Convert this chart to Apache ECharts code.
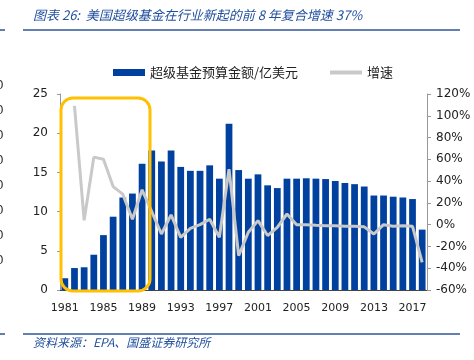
<!DOCTYPE html>
<html><head><meta charset="utf-8">
<script src="https://cdn.jsdelivr.net/npm/echarts@6/dist/echarts.min.js"></script>
<style>html,body{margin:0;padding:0;background:#fff}#c{width:474px;height:360px}</style>
</head><body><div id="c"></div>
<script>
const years = ['1981','1982','1983','1984','1985','1986','1987','1988','1989','1990','1991','1992','1993','1994','1995','1996','1997','1998','1999','2000','2001','2002','2003','2004','2005','2006','2007','2008','2009','2010','2011','2012','2013','2014','2015','2016','2017','2018'];
const budget = [1.5,2.8,2.9,4.5,7.0,9.35,11.8,12.3,16.1,17.8, 16.4,17.8,15.7,15.2,15.2,15.9,14.2,21.2,15.3,14.2, 14.75,13.35,13.0,14.2,14.2,14.25,14.2,14.15,13.9,13.65, 13.5,13.2,12.05,12.05,11.9,11.8,11.6,7.7];
const growth = [null,109,4,62,60,35,28,5,32,12, -8.6,9,-11.6,-3.4,0,5,-11.6,51,-28.5,-7, 3.7,-10,-2.4,9.8,0,0,-0.6,-1,-1,-1.5, -1.5,-2,-8.6,0,-1.5,-1,-1.5,-34.6];
const seriesNames = ['超级基金预算金额/亿美元','增速'];
const titleText = '图表 26:  美国超级基金在行业新起的前 8 年复合增速 37%';
const sourceText = '资料来源：EPA、国盛证券研究所';

const chart = echarts.init(document.getElementById('c'), null, {renderer:'canvas'});
const blue = '#2F5597';
const cjk = '"Noto Sans CJK SC", sans-serif';
const num = '"DejaVu Sans", sans-serif';
const leftZeros = [87,112,137,162,187,212,237,262].map(y => ({
  type:'text', left:-4, top:y-7, style:{text:'0', font:'12px "DejaVu Sans"', fill:'#333'}
}));
chart.setOption({
  animation:false,
  backgroundColor:'#fff',
  grid:{left:60, right:47, top:94, bottom:70},
  legend:[{
    left:108, top:61, itemWidth:32, itemHeight:7, icon:'rect',
    textStyle:{fontFamily:cjk, fontSize:13, color:'#222'},
    data:[seriesNames[0]]
  },{
    left:325, top:61, itemWidth:32, itemHeight:4, icon:'rect',
    textStyle:{fontFamily:cjk, fontSize:13, color:'#222'},
    data:[seriesNames[1]]
  }],
  xAxis:{
    type:'category', data:years,
    axisLine:{lineStyle:{color:'#444', width:1}},
    axisTick:{show:false},
    axisLabel:{interval:3, color:'#222', fontFamily:num, fontSize:11, margin:13}
  },
  yAxis:[{
    type:'value', min:0, max:25, interval:5,
    axisLine:{show:true, lineStyle:{color:'#999'}},
    axisTick:{show:true, length:3, lineStyle:{color:'#999'}},
    splitLine:{show:false},
    axisLabel:{color:'#222', fontFamily:num, fontSize:12, margin:12}
  },{
    type:'value', min:-60, max:120, interval:20, position:'right',
    axisLine:{show:true, lineStyle:{color:'#999'}},
    axisTick:{show:true, length:4, lineStyle:{color:'#999'}},
    splitLine:{show:false},
    axisLabel:{color:'#222', fontFamily:num, fontSize:12, margin:9, formatter:'{value}%'}
  }],
  series:[{
    name:seriesNames[0], type:'bar', data:budget, yAxisIndex:0,
    barCategoryGap:'30%', itemStyle:{color:'#0041A0'}
  },{
    name:seriesNames[1], type:'line', data:growth, yAxisIndex:1,
    symbol:'none', lineStyle:{color:'#C9C9C9', width:3}, itemStyle:{color:'#C9C9C9'}
  }],
  graphic:[
    {type:'text', left:33, top:9, style:{text:titleText, font:'italic 13px "Noto Sans CJK SC"', fill:'#1F4E9D'}},
    {type:'line', shape:{x1:23,y1:30,x2:460,y2:30}, style:{stroke:blue, lineWidth:1.5}},
    {type:'line', shape:{x1:0,y1:30,x2:5,y2:30}, style:{stroke:blue, lineWidth:1.5}},
    {type:'line', shape:{x1:23,y1:334,x2:460,y2:334}, style:{stroke:blue, lineWidth:1.5}},
    {type:'line', shape:{x1:0,y1:334,x2:5,y2:334}, style:{stroke:blue, lineWidth:1.5}},
    {type:'text', left:33, top:336, style:{text:sourceText, font:'italic 12px "Noto Sans CJK SC"', fill:'#1F4E9D'}},
    {type:'rect', shape:{x:61, y:98, width:89, height:193, r:12}, style:{fill:'none', stroke:'#FFC000', lineWidth:3}, z:100}
  ].concat(leftZeros)
});
</script></body></html>
